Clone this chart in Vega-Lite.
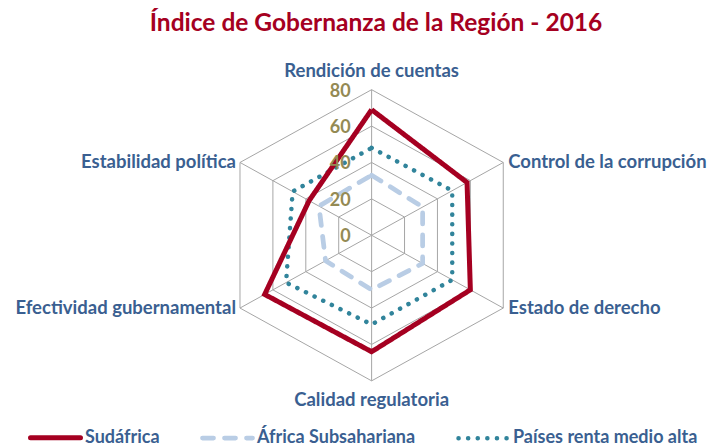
{
  "$schema": "https://vega.github.io/schema/vega-lite/v6.json",
  "width": 710,
  "height": 398,
  "autosize": "none",
  "padding": {"top": 50, "left": 0, "right": 0, "bottom": 0},
  "background": "white",
  "config": {"view": {"stroke": null}, "font": "Lato"},
  "title": {
    "text": "Índice de Gobernanza de la Región - 2016",
    "font": "Lato",
    "fontSize": 24.5,
    "fontWeight": "bold",
    "color": "#A50021",
    "anchor": "middle",
    "dx": 21,
    "offset": 14
  },
  "datasets": {
    "axes": [
      {"axis": "Rendición de cuentas", "idx": 0},
      {"axis": "Control de la corrupción", "idx": 1},
      {"axis": "Estado de derecho", "idx": 2},
      {"axis": "Calidad regulatoria", "idx": 3},
      {"axis": "Efectividad gubernamental", "idx": 4},
      {"axis": "Estabilidad política", "idx": 5}
    ],
    "ticks": [
      {"level": 0}, {"level": 20}, {"level": 40}, {"level": 60}, {"level": 80}
    ],
    "scores": [
      {"series": "Sudáfrica", "axis": "Rendición de cuentas", "idx": 0, "value": 69},
      {"series": "Sudáfrica", "axis": "Control de la corrupción", "idx": 1, "value": 58},
      {"series": "Sudáfrica", "axis": "Estado de derecho", "idx": 2, "value": 60},
      {"series": "Sudáfrica", "axis": "Calidad regulatoria", "idx": 3, "value": 64},
      {"series": "Sudáfrica", "axis": "Efectividad gubernamental", "idx": 4, "value": 65},
      {"series": "Sudáfrica", "axis": "Estabilidad política", "idx": 5, "value": 38},
      {"series": "África Subsahariana", "axis": "Rendición de cuentas", "idx": 0, "value": 33},
      {"series": "África Subsahariana", "axis": "Control de la corrupción", "idx": 1, "value": 31},
      {"series": "África Subsahariana", "axis": "Estado de derecho", "idx": 2, "value": 31},
      {"series": "África Subsahariana", "axis": "Calidad regulatoria", "idx": 3, "value": 30},
      {"series": "África Subsahariana", "axis": "Efectividad gubernamental", "idx": 4, "value": 28},
      {"series": "África Subsahariana", "axis": "Estabilidad política", "idx": 5, "value": 32},
      {"series": "Países renta medio alta", "axis": "Rendición de cuentas", "idx": 0, "value": 48},
      {"series": "Países renta medio alta", "axis": "Control de la corrupción", "idx": 1, "value": 49},
      {"series": "Países renta medio alta", "axis": "Estado de derecho", "idx": 2, "value": 49},
      {"series": "Países renta medio alta", "axis": "Calidad regulatoria", "idx": 3, "value": 49},
      {"series": "Países renta medio alta", "axis": "Efectividad gubernamental", "idx": 4, "value": 52},
      {"series": "Países renta medio alta", "axis": "Estabilidad política", "idx": 5, "value": 48}
    ]
  },
  "layer": [
    {
      "data": {"name": "axes"},
      "transform": [
        {"calculate": "[20, 40, 60, 80]", "as": "level"},
        {"flatten": ["level"]},
        {"calculate": "datum.idx === 0 ? [0, 6] : [datum.idx]", "as": "k"},
        {"flatten": ["k"]},
        {"calculate": "datum.level * sin(datum.k * PI / 3)", "as": "px"},
        {"calculate": "datum.level * cos(datum.k * PI / 3)", "as": "py"}
      ],
      "mark": {"type": "line", "color": "#A6A6A6", "strokeWidth": 1},
      "encoding": {
        "x": {"field": "px", "type": "quantitative", "scale": {"domain": [-195.6, 178.1], "nice": false, "zero": false}, "axis": null},
        "y": {"field": "py", "type": "quantitative", "scale": {"domain": [-116.9, 101.8], "nice": false, "zero": false}, "axis": null},
        "detail": {"field": "level", "type": "nominal"},
        "order": {"field": "k", "type": "quantitative"}
      }
    },
    {
      "data": {"name": "axes"},
      "transform": [
        {"calculate": "80 * sin(datum.idx * PI / 3)", "as": "px"},
        {"calculate": "80 * cos(datum.idx * PI / 3)", "as": "py"},
        {"calculate": "0", "as": "ox"}
      ],
      "mark": {"type": "rule", "color": "#A6A6A6", "strokeWidth": 1},
      "encoding": {
        "x": {"field": "ox", "type": "quantitative"},
        "y": {"field": "ox", "type": "quantitative"},
        "x2": {"field": "px"},
        "y2": {"field": "py"}
      }
    },
    {
      "data": {"name": "scores"},
      "transform": [
        {"filter": "datum.series !== 'Sudáfrica'"},
        {"calculate": "datum.idx === 0 ? [0, 6] : [datum.idx]", "as": "k"},
        {"flatten": ["k"]},
        {"calculate": "datum.value * sin(datum.k * PI / 3)", "as": "px"},
        {"calculate": "datum.value * cos(datum.k * PI / 3)", "as": "py"}
      ],
      "mark": {"type": "line", "strokeCap": "round", "strokeJoin": "round"},
      "encoding": {
        "x": {"field": "px", "type": "quantitative"},
        "y": {"field": "py", "type": "quantitative"},
        "order": {"field": "k", "type": "quantitative"},
        "color": {"field": "series", "type": "nominal", "title": null,
          "scale": {"domain": ["Sudáfrica", "África Subsahariana", "Países renta medio alta"], "range": ["#A50021", "#B9CDE5", "#31849B"]},
          "legend": {
            "orient": "none", "legendX": 28, "legendY": 360, "direction": "horizontal",
            "symbolType": "stroke", "symbolSize": 2500, "symbolStrokeWidth": 4,
            "labelFont": "Lato", "labelFontSize": 18, "labelFontWeight": "bold", "labelColor": "#3A5F91",
            "labelOffset": 2, "columnPadding": 33, "labelLimit": 300, "padding": 0,
            "encode": {"symbols": {"update": {"strokeCap": {"value": "round"}}}}
          }},
        "strokeDash": {"field": "series", "type": "nominal", "title": null, "scale": {"domain": ["Sudáfrica", "África Subsahariana", "Países renta medio alta"], "range": [[1, 0], [11, 11], [0.1, 9.5]]}},
        "strokeWidth": {"field": "series", "type": "nominal", "title": null, "scale": {"domain": ["Sudáfrica", "África Subsahariana", "Países renta medio alta"], "range": [5, 4.5, 3.5]}}
      }
    },
    {
      "data": {"name": "scores"},
      "transform": [
        {"filter": "datum.series === 'Sudáfrica'"},
        {"calculate": "datum.idx === 0 ? [0, 6] : [datum.idx]", "as": "k"},
        {"flatten": ["k"]},
        {"calculate": "datum.value * sin(datum.k * PI / 3)", "as": "px"},
        {"calculate": "datum.value * cos(datum.k * PI / 3)", "as": "py"}
      ],
      "mark": {"type": "line", "strokeCap": "butt", "strokeJoin": "miter"},
      "encoding": {
        "x": {"field": "px", "type": "quantitative"},
        "y": {"field": "py", "type": "quantitative"},
        "order": {"field": "k", "type": "quantitative"},
        "color": {"field": "series", "type": "nominal", "title": null},
        "strokeDash": {"field": "series", "type": "nominal", "title": null},
        "strokeWidth": {"field": "series", "type": "nominal", "title": null}
      }
    },
    {
      "data": {"name": "ticks"},
      "transform": [{"calculate": "0", "as": "ox"}],
      "mark": {"type": "text", "align": "right", "baseline": "middle", "dx": -21, "dy": 2, "font": "Lato", "fontSize": 18, "fontWeight": "bold", "color": "#948A54"},
      "encoding": {
        "x": {"field": "ox", "type": "quantitative"},
        "y": {"field": "level", "type": "quantitative"},
        "text": {"field": "level", "type": "quantitative"}
      }
    },
    {
      "data": {"name": "axes"},
      "transform": [
        {"filter": "datum.idx === 0"},
        {"calculate": "80 * sin(datum.idx * PI / 3)", "as": "px"},
        {"calculate": "80 * cos(datum.idx * PI / 3)", "as": "py"}
      ],
      "mark": {"type": "text", "align": "center", "baseline": "bottom", "dy": -9, "font": "Lato", "fontSize": 18.5, "fontWeight": "bold", "color": "#3A5F91"},
      "encoding": {
        "x": {"field": "px", "type": "quantitative"},
        "y": {"field": "py", "type": "quantitative"},
        "text": {"field": "axis"}
      }
    },
    {
      "data": {"name": "axes"},
      "transform": [
        {"filter": "datum.idx === 3"},
        {"calculate": "80 * sin(datum.idx * PI / 3)", "as": "px"},
        {"calculate": "80 * cos(datum.idx * PI / 3)", "as": "py"}
      ],
      "mark": {"type": "text", "align": "center", "baseline": "top", "dy": 10, "font": "Lato", "fontSize": 18.5, "fontWeight": "bold", "color": "#3A5F91"},
      "encoding": {
        "x": {"field": "px", "type": "quantitative"},
        "y": {"field": "py", "type": "quantitative"},
        "text": {"field": "axis"}
      }
    },
    {
      "data": {"name": "axes"},
      "transform": [
        {"filter": "datum.idx === 1 || datum.idx === 2"},
        {"calculate": "80 * sin(datum.idx * PI / 3)", "as": "px"},
        {"calculate": "80 * cos(datum.idx * PI / 3)", "as": "py"}
      ],
      "mark": {"type": "text", "align": "left", "baseline": "middle", "dx": 5, "font": "Lato", "fontSize": 18.5, "fontWeight": "bold", "color": "#3A5F91"},
      "encoding": {
        "x": {"field": "px", "type": "quantitative"},
        "y": {"field": "py", "type": "quantitative"},
        "text": {"field": "axis"}
      }
    },
    {
      "data": {"name": "axes"},
      "transform": [
        {"filter": "datum.idx === 4 || datum.idx === 5"},
        {"calculate": "80 * sin(datum.idx * PI / 3)", "as": "px"},
        {"calculate": "80 * cos(datum.idx * PI / 3)", "as": "py"}
      ],
      "mark": {"type": "text", "align": "right", "baseline": "middle", "dx": -4, "font": "Lato", "fontSize": 18.5, "fontWeight": "bold", "color": "#3A5F91"},
      "encoding": {
        "x": {"field": "px", "type": "quantitative"},
        "y": {"field": "py", "type": "quantitative"},
        "text": {"field": "axis"}
      }
    }
  ]
}
